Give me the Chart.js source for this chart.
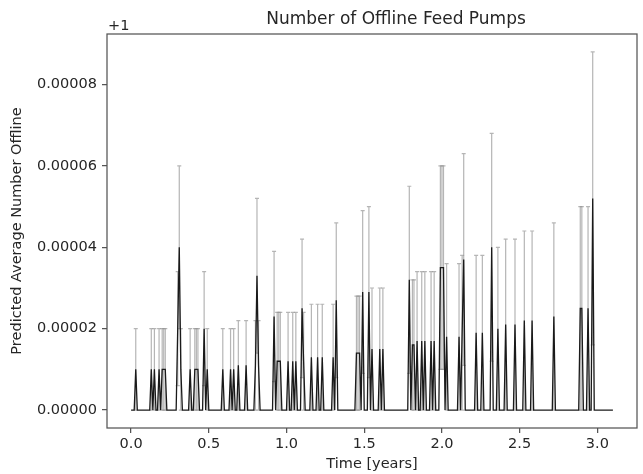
<!DOCTYPE html>
<html><head><meta charset="utf-8">
<script src="https://cdn.jsdelivr.net/npm/chart.js@4/dist/chart.umd.min.js"></script>
<style>html,body{margin:0;padding:0;background:#fff}#wrap{width:643px;height:474px;position:relative}</style>
</head><body><div id="wrap"><canvas id="c" width="643" height="474"></canvas></div>
<script>
// sample spacing of the simulation output, in years
const timeStep = 0.01;
// predicted mean number offline, minus 1, in units of 1e-6 (one value per sample)
const offsetMean = [
0,0,0,10,0,0,0,0,0,0, 0,0,0,10,0,10,0,0,10,0,
10,10,10,0,0,0,0,0,0,0, 20,40,10,0,0,0,0,0,10,0,
0,10,10,10,0,0,0,20,0,10, 0,0,0,0,0,0,0,0,0,10,
0,0,0,0,10,0,10,0,0,11, 0,0,0,0,11,0,0,0,0,0,
11,33,11,0,0,0,0,0,0,0, 0,0,23,0,12,12,12,0,0,0,
0,12,0,0,12,0,12,0,0,0, 25,12,0,0,0,0,13,0,0,0,
13,0,0,13,0,0,0,0,0,0, 13,0,27,0,0,0,0,0,0,0,
0,0,0,0,0,14,14,14,0,29, 0,0,0,29,0,15,0,0,0,0,
15,0,15,0,0,0,0,0,0,0, 0,0,0,0,0,0,0,0,0,32,
0,16,16,0,17,0,0,17,0,17, 0,0,0,17,0,17,0,0,0,35,
35,35,0,18,0,0,0,0,0,0, 0,18,0,19,37,0,0,0,0,0,
0,0,19,0,0,0,19,0,0,0, 0,0,40,0,0,0,20,0,0,0,
0,21,0,0,0,0,0,21,0,0, 0,0,0,22,0,0,0,0,22,0,
0,0,0,0,0,0,0,0,0,0, 0,0,23,0,0,0,0,0,0,0,
0,0,0,0,0,0,0,0,0,25, 25,0,0,0,25,0,0,52,0,0,
0,0,0,0,0,0,0,0,0,0, 0
];
// error bar half-length, same units
const offsetErr = [
0,0,0,10,0,0,0,0,0,0, 0,0,0,10,0,10,0,0,10,0,
10,10,10,0,0,0,0,0,0,0, 14,20,10,0,0,0,0,0,10,0,
0,10,10,10,0,0,0,14,0,10, 0,0,0,0,0,0,0,0,0,10,
0,0,0,0,10,0,10,0,0,11, 0,0,0,0,11,0,0,0,0,0,
11,19,11,0,0,0,0,0,0,0, 0,0,16,0,12,12,12,0,0,0,
0,12,0,0,12,0,12,0,0,0, 17,12,0,0,0,0,13,0,0,0,
13,0,0,13,0,0,0,0,0,0, 13,0,19,0,0,0,0,0,0,0,
0,0,0,0,0,14,14,14,0,20, 0,0,0,21,0,15,0,0,0,0,
15,0,15,0,0,0,0,0,0,0, 0,0,0,0,0,0,0,0,0,23,
0,16,16,0,17,0,0,17,0,17, 0,0,0,17,0,17,0,0,0,25,
25,25,0,18,0,0,0,0,0,0, 0,18,0,19,26,0,0,0,0,0,
0,0,19,0,0,0,19,0,0,0, 0,0,28,0,0,0,20,0,0,0,
0,21,0,0,0,0,0,21,0,0, 0,0,0,22,0,0,0,0,22,0,
0,0,0,0,0,0,0,0,0,0, 0,0,23,0,0,0,0,0,0,0,
0,0,0,0,0,0,0,0,0,25, 25,0,0,0,25,0,0,36,0,0,
0,0,0,0,0,0,0,0,0,0, 0
];
const xTickValues = [0, 0.5, 1.0, 1.5, 2.0, 2.5, 3.0];
const xTickLabels = ['0.0','0.5','1.0','1.5','2.0','2.5','3.0'];
const yTickValues = [0, 20, 40, 60, 80];
const yTickLabels = ['0.00000','0.00002','0.00004','0.00006','0.00008'];
const titleText = 'Number of Offline Feed Pumps';
const offsetText = '+1';
const xTitle = 'Time [years]';
const yTitle = 'Predicted Average Number Offline';

const FONT = "'DejaVu Sans', sans-serif";
const TXT = '#262626';
const AX = '#555555';

const points = offsetMean.map((v, i) => ({x: i * timeStep, y: v}));

const errorBars = {
  id: 'errorBars',
  beforeDatasetsDraw(chart) {
    const {ctx, chartArea: a, scales: {x, y}} = chart;
    ctx.save();
    ctx.beginPath(); ctx.rect(a.left, a.top, a.width, a.height); ctx.clip();
    ctx.strokeStyle = 'rgba(150,150,150,0.7)';
    ctx.lineWidth = 1.2;
    offsetMean.forEach((v, i) => {
      const e = offsetErr[i];
      if (!e) return;
      const px = x.getPixelForValue(i * timeStep);
      const pt = y.getPixelForValue(v + e);
      const pb = y.getPixelForValue(v - e);
      ctx.beginPath();
      ctx.moveTo(px, pt); ctx.lineTo(px, pb);
      ctx.moveTo(px - 2, pt); ctx.lineTo(px + 2, pt);
      ctx.moveTo(px - 2, pb); ctx.lineTo(px + 2, pb);
      ctx.stroke();
    });
    ctx.restore();
  }
};

const frame = {
  id: 'frame',
  afterDraw(chart) {
    const {ctx, chartArea: a} = chart;
    ctx.save();
    ctx.strokeStyle = AX;
    ctx.lineWidth = 1.25;
    ctx.strokeRect(a.left, a.top, a.width, a.height);
    ctx.fillStyle = TXT;
    ctx.font = "17px " + FONT;
    ctx.textAlign = 'center';
    ctx.textBaseline = 'alphabetic';
    ctx.fillText(titleText, (a.left + a.right) / 2 + 24, 24);
    ctx.font = "14.5px " + FONT;
    ctx.textAlign = 'left';
    ctx.fillText(offsetText, a.left + 1, 30);
    ctx.restore();
  }
};

new Chart(document.getElementById('c'), {
  type: 'line',
  data: {datasets: [{
    data: points,
    borderColor: '#1a1a1a',
    borderWidth: 1.3,
    pointRadius: 0,
    tension: 0,
    fill: false
  }]},
  options: {
    responsive: false,
    animation: false,
    events: [],
    layout: {padding: {top: 34, right: 6, left: 0, bottom: 0}},
    plugins: {legend: {display: false}, title: {display: false}, tooltip: {enabled: false}},
    scales: {
      x: {
        type: 'linear', min: -0.155, max: 3.255,
        afterFit(s) { s.height = 46; },
        afterBuildTicks(s) { s.ticks = xTickValues.map(v => ({value: v})); },
        border: {display: false},
        grid: {drawOnChartArea: false, drawTicks: true, tickLength: 5, color: AX, lineWidth: 1.25},
        ticks: {color: TXT, font: {family: FONT, size: 14.5}, padding: 3, maxRotation: 0,
          callback: (v) => xTickLabels[xTickValues.indexOf(v)]},
        title: {display: true, text: xTitle, color: TXT, font: {family: FONT, size: 14.5}, padding: {top: 0, bottom: 1}}
      },
      y: {
        type: 'linear', min: -4.4, max: 92.4,
        afterFit(s) { s.width = 107; },
        afterBuildTicks(s) { s.ticks = yTickValues.map(v => ({value: v})); },
        border: {display: false},
        grid: {drawOnChartArea: false, drawTicks: true, tickLength: 5, color: AX, lineWidth: 1.25},
        ticks: {color: TXT, font: {family: FONT, size: 14.5}, padding: 5,
          callback: (v) => yTickLabels[yTickValues.indexOf(v)]},
        title: {display: true, text: yTitle, color: TXT, font: {family: FONT, size: 14.5}, padding: {top: 9, bottom: 0}}
      }
    }
  },
  plugins: [errorBars, frame]
});
</script></body></html>
